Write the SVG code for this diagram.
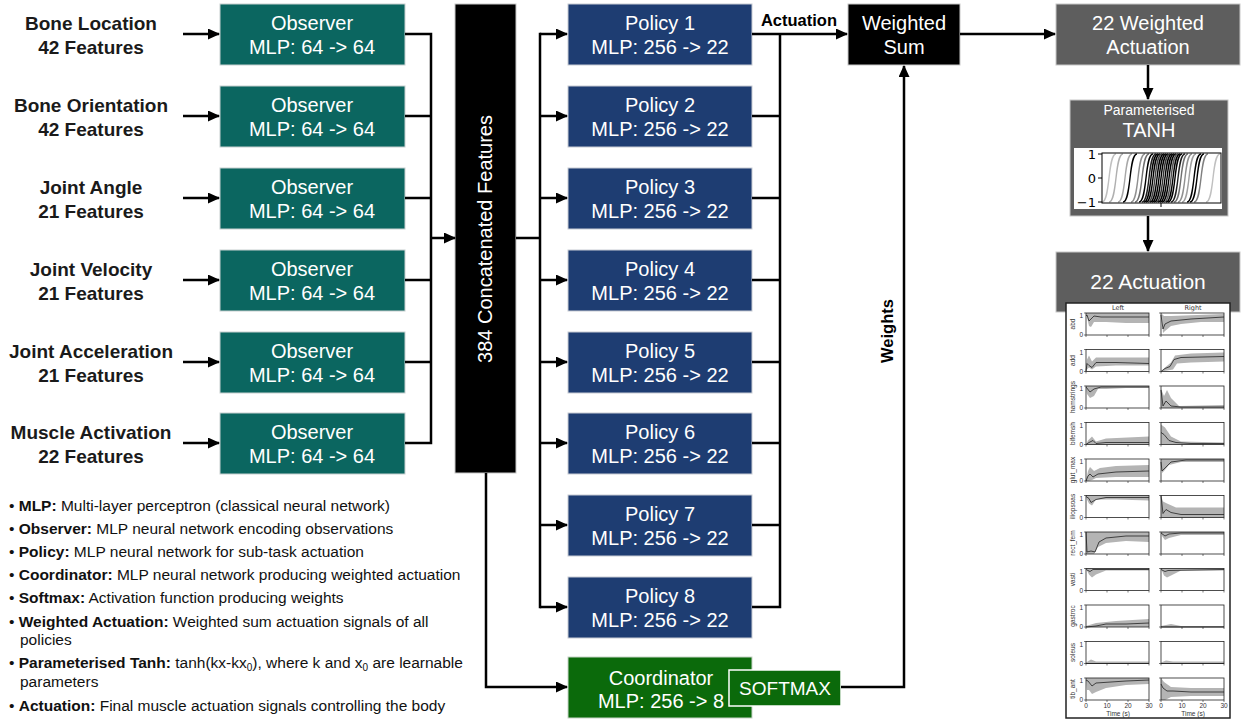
<svg xmlns="http://www.w3.org/2000/svg" xmlns:xlink="http://www.w3.org/1999/xlink" width="1242" height="720" viewBox="0 0 1242 720">
<style>
text{font-family:"Liberation Sans",Arial,sans-serif}
.in{font-size:19px;font-weight:bold;fill:#1a1a1a;text-anchor:middle}
.bx{font-size:20px;fill:#fff;text-anchor:middle}
.obs{fill:#0b6660;stroke:#c8d0d0;stroke-width:1}
.pol{fill:#1e3d72;stroke:#c8ccd4;stroke-width:1}
.grn{fill:#0b6a0b;stroke:#c8d4c8;stroke-width:1}
.gry{fill:#5e5e5e;stroke:#c8c8c8;stroke-width:1}
.blk{fill:#000;stroke:#c8c8c8;stroke-width:1}
.ln{fill:none;stroke:#000;stroke-width:2.5}
.ar{fill:none;stroke:#000;stroke-width:2.5;marker-end:url(#ah)}
.lg{font-size:15.5px;fill:#111}
.lg tspan.b{font-weight:bold}
.band{fill:#b4b4b4;stroke:none}
.mean{fill:none;stroke:#222;stroke-width:0.8}
.fr{fill:none;stroke:#222;stroke-width:0.8}
.tk{stroke:#222;stroke-width:0.6}
.sm{font-family:"DejaVu Sans",sans-serif;font-size:6.5px;fill:#333}
.yl{font-family:"DejaVu Sans",sans-serif;font-size:6.5px;fill:#333;text-anchor:middle}
.tl{font-family:"DejaVu Sans",sans-serif;font-size:13px;fill:#000;text-anchor:end}
</style>
<defs>
<marker id="ah" markerUnits="userSpaceOnUse" markerWidth="12" markerHeight="11" refX="11" refY="5.5" orient="auto">
<path d="M0,0 L12,5.5 L0,11 Z" fill="#000"/>
</marker>
<path id="sg" d="M-7,202 C1.5,202 -1.5,154 7,154" fill="none"/>
<g id="tks" class="tk">
<line x1="0" y1="22" x2="0" y2="24"/><line x1="21" y1="22" x2="21" y2="24"/><line x1="42" y1="22" x2="42" y2="24"/><line x1="63" y1="22" x2="63" y2="24"/>
<line x1="-2" y1="0" x2="0" y2="0"/><line x1="-2" y1="22" x2="0" y2="22"/>
</g>
</defs>
<rect width="1242" height="720" fill="#fff"/>

<!-- inputs -->
<g id="inputs">
<text class="in" x="91" y="30">Bone Location</text><text class="in" x="91" y="54">42 Features</text>
<text class="in" x="91" y="112">Bone Orientation</text><text class="in" x="91" y="136">42 Features</text>
<text class="in" x="91" y="194">Joint Angle</text><text class="in" x="91" y="218">21 Features</text>
<text class="in" x="91" y="276">Joint Velocity</text><text class="in" x="91" y="300">21 Features</text>
<text class="in" x="91" y="358">Joint Acceleration</text><text class="in" x="91" y="382">21 Features</text>
<text class="in" x="91" y="439">Muscle Activation</text><text class="in" x="91" y="463">22 Features</text>
</g>

<!-- observers -->
<g id="obs1"><rect class="obs" x="220" y="4" width="185" height="61"/><text class="bx" x="312" y="30">Observer</text><text class="bx" x="312" y="54">MLP: 64 -&gt; 64</text></g>
<g id="obs2"><rect class="obs" x="220" y="86" width="185" height="61"/><text class="bx" x="312" y="112">Observer</text><text class="bx" x="312" y="136">MLP: 64 -&gt; 64</text></g>
<g id="obs3"><rect class="obs" x="220" y="168" width="185" height="61"/><text class="bx" x="312" y="194">Observer</text><text class="bx" x="312" y="218">MLP: 64 -&gt; 64</text></g>
<g id="obs4"><rect class="obs" x="220" y="250" width="185" height="61"/><text class="bx" x="312" y="276">Observer</text><text class="bx" x="312" y="300">MLP: 64 -&gt; 64</text></g>
<g id="obs5"><rect class="obs" x="220" y="332" width="185" height="61"/><text class="bx" x="312" y="358">Observer</text><text class="bx" x="312" y="382">MLP: 64 -&gt; 64</text></g>
<g id="obs6"><rect class="obs" x="220" y="413" width="185" height="61"/><text class="bx" x="312" y="439">Observer</text><text class="bx" x="312" y="463">MLP: 64 -&gt; 64</text></g>

<!-- concatenated -->
<g id="concat"><rect class="blk" x="455" y="4" width="61" height="469"/><text class="bx" transform="translate(492,239) rotate(-90)">384 Concatenated Features</text></g>

<!-- policies -->
<g id="pol1"><rect class="pol" x="568" y="4" width="184" height="61"/><text class="bx" x="660" y="30">Policy 1</text><text class="bx" x="660" y="54">MLP: 256 -&gt; 22</text></g>
<g id="pol2"><rect class="pol" x="568" y="86" width="184" height="61"/><text class="bx" x="660" y="112">Policy 2</text><text class="bx" x="660" y="136">MLP: 256 -&gt; 22</text></g>
<g id="pol3"><rect class="pol" x="568" y="168" width="184" height="61"/><text class="bx" x="660" y="194">Policy 3</text><text class="bx" x="660" y="218">MLP: 256 -&gt; 22</text></g>
<g id="pol4"><rect class="pol" x="568" y="250" width="184" height="61"/><text class="bx" x="660" y="276">Policy 4</text><text class="bx" x="660" y="300">MLP: 256 -&gt; 22</text></g>
<g id="pol5"><rect class="pol" x="568" y="332" width="184" height="61"/><text class="bx" x="660" y="358">Policy 5</text><text class="bx" x="660" y="382">MLP: 256 -&gt; 22</text></g>
<g id="pol6"><rect class="pol" x="568" y="413" width="184" height="61"/><text class="bx" x="660" y="439">Policy 6</text><text class="bx" x="660" y="463">MLP: 256 -&gt; 22</text></g>
<g id="pol7"><rect class="pol" x="568" y="495" width="184" height="61"/><text class="bx" x="660" y="521">Policy 7</text><text class="bx" x="660" y="545">MLP: 256 -&gt; 22</text></g>
<g id="pol8"><rect class="pol" x="568" y="577" width="184" height="61"/><text class="bx" x="660" y="603">Policy 8</text><text class="bx" x="660" y="627">MLP: 256 -&gt; 22</text></g>

<!-- coordinator -->
<g id="coord"><rect class="grn" x="568" y="657" width="184" height="61"/><text class="bx" x="661" y="685">Coordinator</text><text class="bx" x="661" y="708">MLP: 256 -&gt; 8</text></g>
<g id="softmax"><rect x="729" y="670" width="112" height="36" fill="#0b6a0b" stroke="#fff" stroke-width="1.5"/><text class="bx" x="785" y="695" style="font-size:19px">SOFTMAX</text></g>

<!-- weighted sum -->
<g id="wsum"><rect class="blk" x="848" y="4" width="112" height="61"/><text class="bx" x="904" y="30">Weighted</text><text class="bx" x="904" y="54">Sum</text></g>
<g id="wact"><rect class="gry" x="1056" y="4" width="184" height="61"/><text class="bx" x="1148" y="30">22 Weighted</text><text class="bx" x="1148" y="54">Actuation</text></g>

<!-- tanh -->
<g id="tanh">
<rect class="gry" x="1070" y="100" width="158" height="116"/>
<text class="bx" x="1149" y="115" style="font-size:14px">Parameterised</text>
<text class="bx" x="1149" y="137">TANH</text>
<rect x="1074" y="148" width="148" height="61" fill="#fff"/>
<g stroke-width="1.4">
<use xlink:href="#sg" x="1109" stroke="#c0c0c0"/>
<use xlink:href="#sg" x="1116" stroke="#b0b0b0"/>
<use xlink:href="#sg" x="1125" stroke="#a8a8a8"/>
<use xlink:href="#sg" x="1130" stroke="#000"/>
<use xlink:href="#sg" x="1138" stroke="#909090"/>
<use xlink:href="#sg" x="1142" stroke="#707070"/>
<use xlink:href="#sg" x="1146" stroke="#000"/>
<use xlink:href="#sg" x="1149" stroke="#202020"/>
<use xlink:href="#sg" x="1151" stroke="#000"/>
<use xlink:href="#sg" x="1153" stroke="#000"/>
<use xlink:href="#sg" x="1155" stroke="#404040"/>
<use xlink:href="#sg" x="1157" stroke="#000"/>
<use xlink:href="#sg" x="1159" stroke="#000"/>
<use xlink:href="#sg" x="1161" stroke="#000"/>
<use xlink:href="#sg" x="1163" stroke="#303030"/>
<use xlink:href="#sg" x="1165" stroke="#000"/>
<use xlink:href="#sg" x="1167" stroke="#000"/>
<use xlink:href="#sg" x="1169" stroke="#000"/>
<use xlink:href="#sg" x="1171" stroke="#505050"/>
<use xlink:href="#sg" x="1173" stroke="#000"/>
<use xlink:href="#sg" x="1175" stroke="#000"/>
<use xlink:href="#sg" x="1178" stroke="#202020"/>
<use xlink:href="#sg" x="1181" stroke="#707070"/>
<use xlink:href="#sg" x="1185" stroke="#909090"/>
<use xlink:href="#sg" x="1189" stroke="#a0a0a0"/>
<use xlink:href="#sg" x="1194" stroke="#000"/>
<use xlink:href="#sg" x="1197" stroke="#000"/>
<use xlink:href="#sg" x="1201" stroke="#808080"/>
<use xlink:href="#sg" x="1213" stroke="#c0c0c0"/>
</g>
<rect x="1102" y="153" width="119" height="50" fill="none" stroke="#000" stroke-width="1"/>
<g stroke="#000" stroke-width="1"><line x1="1098" y1="154" x2="1102" y2="154"/><line x1="1098" y1="178" x2="1102" y2="178"/><line x1="1098" y1="202" x2="1102" y2="202"/><line x1="1161" y1="203" x2="1161" y2="207"/></g>
<text class="tl" x="1096" y="159">1</text>
<text class="tl" x="1096" y="183">0</text>
<text class="tl" x="1096" y="207">−1</text>
</g>

<!-- actuation -->
<g id="act"><rect class="gry" x="1056" y="252" width="184" height="60"/><text class="bx" x="1148" y="289" style="font-size:21px">22 Actuation</text></g>

<!-- actuation plot panel -->
<g id="panel">
<rect x="1066" y="303" width="164" height="415" fill="#fff" stroke="#222" stroke-width="1.5"/>
<text class="yl" x="1118" y="310">Left</text>
<text class="yl" x="1193" y="310">Right</text>
<g transform="translate(1086,313)"><path class="band" d="M0,0 L63,0 L63,10 L40,10 L20,9 L8,9 L5,14 L3,13 L1,4 L0,2 Z"/><path class="mean" d="M0,3 L1,2 L3,8 L5,6 L8,3 L15,4 L63,4"/><rect class="fr" width="63" height="22"/><use xlink:href="#tks"/></g>
<g transform="translate(1161,313)"><path class="band" d="M0,0 L3,3 L10,3 L63,1 L63,9 L40,9 L20,11 L10,13 L4,18 L2,20 L1,5 Z"/><path class="mean" d="M0,2 L2,16 L4,11 L10,8 L30,6 L63,4"/><rect class="fr" width="63" height="22"/><use xlink:href="#tks"/></g>
<g transform="translate(1086,349.5)"><path class="band" d="M0,22 L1,10 L3,6 L6,12 L10,8 L63,8 L63,16 L30,16 L10,17 L6,20 L3,18 L1,20 Z"/><path class="mean" d="M0,22 L1,14 L3,16 L6,18 L10,13 L30,13 L63,14"/><rect class="fr" width="63" height="22"/><use xlink:href="#tks"/></g>
<g transform="translate(1161,349.5)"><path class="band" d="M0,22 L4,18 L10,13 L14,6 L30,4 L63,3 L63,12 L30,13 L16,14 L12,20 L6,21 Z"/><path class="mean" d="M0,22 L4,19 L9,17 L13,10 L20,8 L63,7"/><rect class="fr" width="63" height="22"/><use xlink:href="#tks"/></g>
<g transform="translate(1086,386)"><path class="band" d="M0,0 L63,0 L63,2 L40,2 L20,3 L12,3 L8,10 L4,12 L1,8 Z"/><path class="mean" d="M0,1 L4,6 L8,3 L15,1 L63,1"/><rect class="fr" width="63" height="22"/><use xlink:href="#tks"/></g>
<g transform="translate(1161,386)"><path class="band" d="M0,3 L3,10 L6,4 L10,12 L18,20 L63,19 L63,22 L0,22 Z"/><path class="mean" d="M0,4 L2,20 L5,15 L10,20 L20,21 L63,21"/><rect class="fr" width="63" height="22"/><use xlink:href="#tks"/></g>
<g transform="translate(1086,422.5)"><path class="band" d="M0,22 L2,18 L6,14 L10,19 L20,16 L63,14 L63,22 Z"/><path class="mean" d="M0,22 L3,20 L7,18 L10,21 L20,20 L63,20"/><rect class="fr" width="63" height="22"/><use xlink:href="#tks"/></g>
<g transform="translate(1161,422.5)"><path class="band" d="M0,2 L4,5 L10,14 L20,19 L63,20 L63,22 L0,22 Z"/><path class="mean" d="M0,10 L3,12 L8,18 L15,20 L30,21 L63,21"/><rect class="fr" width="63" height="22"/><use xlink:href="#tks"/></g>
<g transform="translate(1086,459)"><path class="band" d="M0,22 L2,12 L4,8 L8,12 L14,9 L30,7 L63,6 L63,18 L30,18 L10,19 L6,21 L2,22 Z"/><path class="mean" d="M0,22 L2,17 L4,15 L7,18 L12,15 L30,13 L63,12"/><rect class="fr" width="63" height="22"/><use xlink:href="#tks"/></g>
<g transform="translate(1161,459)"><path class="band" d="M0,0 L63,0 L63,3 L20,3 L8,6 L3,12 L1,14 Z"/><path class="mean" d="M0,3 L1,12 L4,9 L10,3 L25,1 L63,1"/><rect class="fr" width="63" height="22"/><use xlink:href="#tks"/></g>
<g transform="translate(1086,495.5)"><path class="band" d="M0,0 L63,0 L63,5 L30,4 L10,4 L6,10 L3,8 L1,4 Z"/><path class="mean" d="M0,1 L3,3 L5,7 L10,4 L20,2 L63,2"/><rect class="fr" width="63" height="22"/><use xlink:href="#tks"/></g>
<g transform="translate(1161,495.5)"><path class="band" d="M0,0 L2,6 L6,8 L15,12 L63,12 L63,22 L0,22 Z"/><path class="mean" d="M0,0 L2,18 L5,14 L10,17 L20,19 L63,19"/><rect class="fr" width="63" height="22"/><use xlink:href="#tks"/></g>
<g transform="translate(1086,532)"><path class="band" d="M0,0 L63,0 L63,10 L40,9 L20,11 L12,15 L8,22 L0,22 Z"/><path class="mean" d="M0,0 L1,20 L5,19 L9,20 L13,10 L20,6 L40,4 L63,4"/><rect class="fr" width="63" height="22"/><use xlink:href="#tks"/></g>
<g transform="translate(1161,532)"><path class="band" d="M0,0 L63,0 L63,3 L20,3 L8,6 L4,8 L1,4 Z"/><path class="mean" d="M0,1 L4,4 L8,2 L20,1 L63,1"/><rect class="fr" width="63" height="22"/><use xlink:href="#tks"/></g>
<g transform="translate(1086,568.5)"><path class="band" d="M0,0 L63,0 L63,2 L20,2 L10,6 L6,9 L3,6 Z"/><path class="mean" d="M0,1 L4,3 L7,1 L63,1"/><rect class="fr" width="63" height="22"/><use xlink:href="#tks"/></g>
<g transform="translate(1161,568.5)"><path class="band" d="M0,0 L63,0 L63,2 L20,2 L10,7 L6,9 L3,7 Z"/><path class="mean" d="M0,1 L4,3 L7,2 L63,1"/><rect class="fr" width="63" height="22"/><use xlink:href="#tks"/></g>
<g transform="translate(1086,605)"><path class="band" d="M0,21 L10,18 L30,16 L63,14 L63,22 L0,22 Z"/><path class="mean" d="M0,22 L10,21 L20,19 L40,19 L63,18"/><rect class="fr" width="63" height="22"/><use xlink:href="#tks"/></g>
<g transform="translate(1161,605)"><path class="band" d="M0,21 L10,19 L20,21 L63,21 L63,22 L0,22 Z"/><path class="mean" d="M0,22 L63,22"/><rect class="fr" width="63" height="22"/><use xlink:href="#tks"/></g>
<g transform="translate(1086,641.5)"><path class="band" d="M0,21 L5,18 L10,20 L63,20 L63,22 L0,22 Z"/><path class="mean" d="M0,22 L63,22"/><rect class="fr" width="63" height="22"/><use xlink:href="#tks"/></g>
<g transform="translate(1161,641.5)"><path class="band" d="M0,21 L5,19 L12,20 L63,20 L63,22 L0,22 Z"/><path class="mean" d="M0,22 L63,22"/><rect class="fr" width="63" height="22"/><use xlink:href="#tks"/></g>
<g transform="translate(1086,678)"><path class="band" d="M0,0 L63,0 L63,6 L40,7 L20,10 L10,14 L6,16 L3,12 L1,12 Z"/><path class="mean" d="M0,2 L2,3 L6,8 L10,5 L25,4 L40,3 L63,2"/><rect class="fr" width="63" height="22"/><use xlink:href="#tks"/></g>
<g transform="translate(1161,678)"><path class="band" d="M0,0 L3,4 L10,9 L30,10 L63,10 L63,18 L30,18 L10,19 L4,22 L0,22 Z"/><path class="mean" d="M0,6 L2,10 L6,13 L12,13 L30,14 L63,14"/><rect class="fr" width="63" height="22"/><use xlink:href="#tks"/></g>
<g class="sm" text-anchor="end">
<text x="1083" y="318">1</text><text x="1083" y="337">0</text>
<text x="1083" y="354.5">1</text><text x="1083" y="373.5">0</text>
<text x="1083" y="391">1</text><text x="1083" y="410">0</text>
<text x="1083" y="427.5">1</text><text x="1083" y="446.5">0</text>
<text x="1083" y="464">1</text><text x="1083" y="483">0</text>
<text x="1083" y="500.5">1</text><text x="1083" y="519.5">0</text>
<text x="1083" y="537">1</text><text x="1083" y="556">0</text>
<text x="1083" y="573.5">1</text><text x="1083" y="592.5">0</text>
<text x="1083" y="610">1</text><text x="1083" y="629">0</text>
<text x="1083" y="646.5">1</text><text x="1083" y="665.5">0</text>
<text x="1083" y="683">1</text><text x="1083" y="702">0</text>
</g>
<g class="yl">
<text transform="translate(1075,324) rotate(-90)">abd</text>
<text transform="translate(1075,360.5) rotate(-90)">add</text>
<text transform="translate(1075,397) rotate(-90)">hamstrings</text>
<text transform="translate(1075,433.5) rotate(-90)">bifemsh</text>
<text transform="translate(1075,470) rotate(-90)">glut_max</text>
<text transform="translate(1075,506.5) rotate(-90)">iliopsoas</text>
<text transform="translate(1075,543) rotate(-90)">rect_fem</text>
<text transform="translate(1075,579.5) rotate(-90)">vasti</text>
<text transform="translate(1075,616) rotate(-90)">gastroc</text>
<text transform="translate(1075,652.5) rotate(-90)">soleus</text>
<text transform="translate(1075,689) rotate(-90)">tib_ant</text>
</g>
<g class="yl">
<text x="1086" y="708">0</text><text x="1107" y="708">10</text><text x="1128" y="708">20</text><text x="1149" y="708">30</text>
<text x="1161" y="708">0</text><text x="1182" y="708">10</text><text x="1203" y="708">20</text><text x="1224" y="708">30</text>
<text x="1118" y="716">Time (s)</text><text x="1193" y="716">Time (s)</text>
</g>
</g>

<!-- connectors -->
<g id="connectors">
<path class="ar" d="M183,34 H219"/>
<path class="ar" d="M183,116 H219"/>
<path class="ar" d="M183,198 H219"/>
<path class="ar" d="M183,280 H219"/>
<path class="ar" d="M183,362 H219"/>
<path class="ar" d="M183,443 H219"/>
<path class="ln" d="M405,34 H431 M405,116 H431 M405,198 H431 M405,280 H431 M405,362 H431 M405,443 H431 M431,32.8 V444.2"/>
<path class="ar" d="M431,238 H455"/>
<path class="ln" d="M516,238 H540 M540,32.8 V608.2"/>
<path class="ar" d="M540,34 H567"/>
<path class="ar" d="M540,116 H567"/>
<path class="ar" d="M540,198 H567"/>
<path class="ar" d="M540,280 H567"/>
<path class="ar" d="M540,362 H567"/>
<path class="ar" d="M540,443 H567"/>
<path class="ar" d="M540,525 H567"/>
<path class="ar" d="M540,607 H567"/>
<path class="ln" d="M752,116 H780 M752,198 H780 M752,280 H780 M752,362 H780 M752,443 H780 M752,525 H780 M752,607 H780 M780,34 V608.2"/>
<path class="ar" d="M752,34 H847"/>
<path class="ar" d="M960,34 H1055"/>
<path class="ar" d="M1148,65 V99"/>
<path class="ar" d="M1148,216 V251"/>
<path class="ar" d="M486,473 V687 H567"/>
<path class="ar" d="M841,687 H904 V66"/>
<text x="799" y="26" text-anchor="middle" style="font-size:16.5px;font-weight:bold">Actuation</text>
<text transform="translate(893,331) rotate(-90)" text-anchor="middle" style="font-size:16.5px;font-weight:bold">Weights</text>
</g>

<!-- legend -->
<g id="legend" class="lg">
<text x="9" y="511">• <tspan class="b">MLP:</tspan> Multi-layer perceptron (classical neural network)</text>
<text x="9" y="534">• <tspan class="b">Observer:</tspan> MLP neural network encoding observations</text>
<text x="9" y="557">• <tspan class="b">Policy:</tspan> MLP neural network for sub-task actuation</text>
<text x="9" y="580">• <tspan class="b">Coordinator:</tspan> MLP neural network producing weighted actuation</text>
<text x="9" y="603">• <tspan class="b">Softmax:</tspan> Activation function producing weights</text>
<text x="9" y="627">• <tspan class="b">Weighted Actuation:</tspan> Weighted sum actuation signals of all</text>
<text x="20" y="645">policies</text>
<text x="9" y="668">• <tspan class="b">Parameterised Tanh:</tspan> tanh(kx-kx<tspan font-size="10" dy="3">0</tspan><tspan dy="-3">), where k and x</tspan><tspan font-size="10" dy="3">0</tspan><tspan dy="-3"> are learnable</tspan></text>
<text x="20" y="687">parameters</text>
<text x="9" y="711">• <tspan class="b">Actuation:</tspan> Final muscle actuation signals controlling the body</text>
</g>
</svg>
